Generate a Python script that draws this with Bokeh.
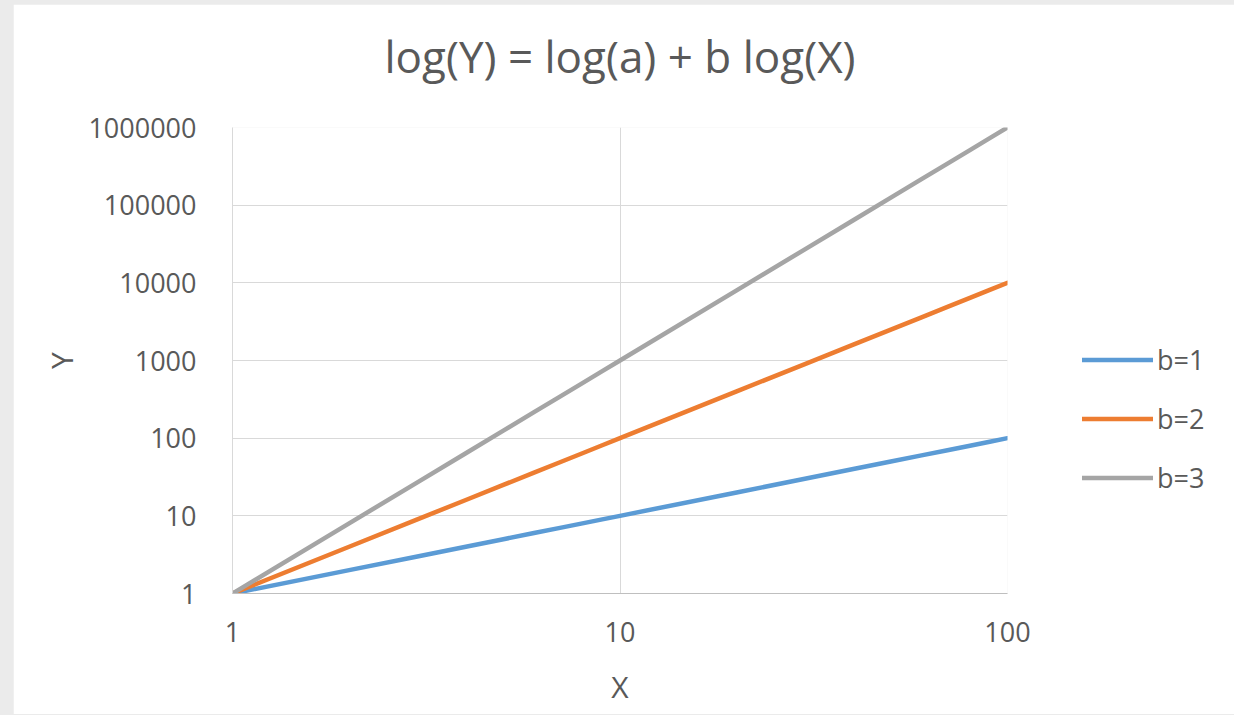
from bokeh.plotting import figure
from bokeh.models import (FixedTicker, PrintfTickFormatter, Legend, LegendItem,
                          LogAxis)
from bokeh.embed import file_html
from bokeh.resources import INLINE

# ---- data ----
x_values = [1, 2, 3, 4, 5, 6, 7, 8, 9, 10, 20, 30, 40, 50, 60, 70, 80, 90, 100]
y_b1 = [1, 2, 3, 4, 5, 6, 7, 8, 9, 10, 20, 30, 40, 50, 60, 70, 80, 90, 100]
y_b2 = [1, 4, 9, 16, 25, 36, 49, 64, 81, 100, 400, 900, 1600, 2500, 3600,
        4900, 6400, 8100, 10000]
y_b3 = [1, 8, 27, 64, 125, 216, 343, 512, 729, 1000, 8000, 27000, 64000,
        125000, 216000, 343000, 512000, 729000, 1000000]
series_names = ["b=1", "b=2", "b=3"]
series_colors = ["#5B9BD5", "#ED7D31", "#A5A5A5"]
x_ticks = [1, 10, 100]
y_ticks = [1, 10, 100, 1000, 10000, 100000, 1000000]
title_text = "log(Y) = log(a) + b log(X)"
x_title = "X"
y_title = "Y"

FONT = "Open Sans"
TXT = "#595959"

p = figure(frame_width=775, frame_height=466,
           x_axis_type="log", y_axis_type="log",
           x_range=(1, 100), y_range=(1, 1000000),
           output_backend="svg", toolbar_location=None,
           min_border_left=219, min_border_right=221,
           min_border_top=123, min_border_bottom=121)

p.background_fill_color = "white"
p.border_fill_color = "white"
p.outline_line_color = None
p.title.text = ""
p.title.standoff = 0

xax = p.below[0]
yax = p.left[0]

# chart title as the label of a bare axis above the frame
top_axis = LogAxis(ticker=FixedTicker(ticks=[], minor_ticks=[]),
                   axis_label=title_text)
top_axis.axis_line_color = None
top_axis.major_tick_line_color = None
top_axis.minor_tick_line_color = None
top_axis.major_tick_out = 0
top_axis.major_tick_in = 0
top_axis.minor_tick_out = 0
top_axis.major_label_standoff = 0
top_axis.major_label_text_color = None
top_axis.axis_label_standoff = 42
top_axis.axis_label_text_font = FONT
top_axis.axis_label_text_font_size = "44px"
top_axis.axis_label_text_font_style = "normal"
top_axis.axis_label_text_color = TXT
p.add_layout(top_axis, "above")

# grids
p.xgrid.ticker = FixedTicker(ticks=x_ticks)
p.ygrid.ticker = FixedTicker(ticks=y_ticks)
for g in (p.xgrid, p.ygrid):
    g.grid_line_color = "#D9D9D9"
    g.grid_line_width = 1

# axes
xax.ticker = FixedTicker(ticks=x_ticks, minor_ticks=[])
yax.ticker = FixedTicker(ticks=y_ticks, minor_ticks=[])
for ax in (xax, yax):
    ax.formatter = PrintfTickFormatter(format="%d")
    ax.major_tick_line_color = None
    ax.minor_tick_line_color = None
    ax.major_label_text_font = FONT
    ax.major_label_text_font_size = "27px"
    ax.major_label_text_color = TXT
    ax.axis_label_text_font = FONT
    ax.axis_label_text_font_size = "30px"
    ax.axis_label_text_font_style = "normal"
    ax.axis_label_text_color = TXT
xax.axis_line_color = "#BFBFBF"
yax.axis_line_color = "#D9D9D9"
xax.axis_label = x_title
yax.axis_label = y_title
yax.major_label_standoff = 30
xax.major_label_standoff = 22
yax.axis_label_standoff = 3
xax.axis_label_standoff = 21

items = []
for ys, name, col in zip([y_b1, y_b2, y_b3], series_names, series_colors):
    r = p.line(x_values, ys, line_color=col, line_width=4.5, line_cap="round")
    items.append(LegendItem(label=name, renderers=[r]))

legend = Legend(items=items, location=(75, 86))
legend.glyph_width = 71
legend.glyph_height = 59
legend.label_height = 59
legend.spacing = 0
legend.padding = 0
legend.margin = 0
legend.label_standoff = 4
legend.border_line_color = None
legend.background_fill_alpha = 0
legend.label_text_font = FONT
legend.label_text_font_size = "27px"
legend.label_text_color = TXT
p.add_layout(legend, "right")

html = file_html(p, INLINE)
head_end = html.rfind("</head>")
body_at = html.find("<body", head_end)
if head_end != -1 and body_at != -1:
    html = (html[:body_at]
            + '<body style="background-color:#ebebeb;margin:0;'
              'padding:4px 0 0 13px;"'
            + html[body_at + len("<body"):])
open("out.html", "w").write(html)
